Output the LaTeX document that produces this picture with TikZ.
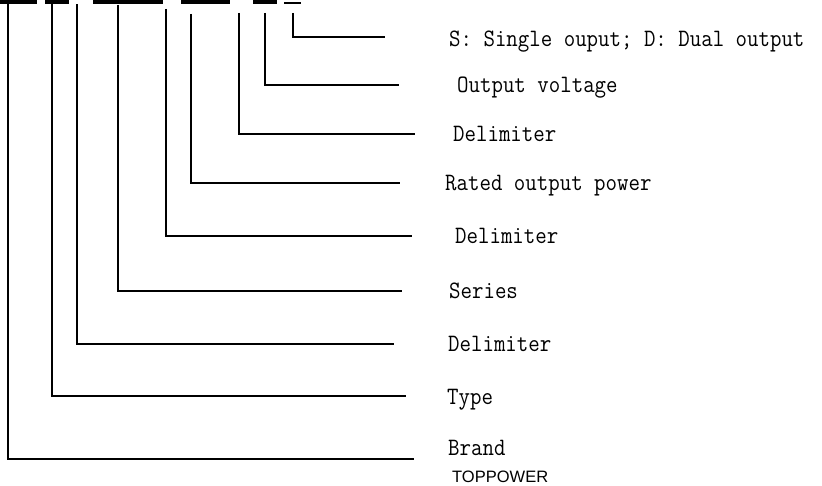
\documentclass[tikz,border=0pt]{standalone}
\usepackage{fontspec}
\newfontfamily\codefont[FakeStretch=0.89]{Latin Modern Mono}
\newfontfamily\brandfont{Liberation Sans}
\usetikzlibrary{positioning,calc}

\begin{document}
\begin{tikzpicture}[
    x=1pt, y=-1pt,
    field/.style={fill=black},
    part/.style={anchor=base west, inner sep=0pt,
        font=\codefont\fontsize{25}{30}\selectfont},
    maker/.style={anchor=base west, inner sep=0pt,
        font=\brandfont\fontsize{16.5}{20}\selectfont},
    leader/.style={draw=black, line width=1.1pt}
]
    \useasboundingbox (0,0) rectangle (822,486);

    % Code fields along the top
    \fill[field] (0,0) rectangle (37,4.5);
    \fill[field] (45,0) rectangle (69,4.5);
    \fill[field] (93,0) rectangle (163,4.5);
    \fill[field] (181,0) rectangle (230,4.5);
    \fill[field] (253,0) rectangle (277,4.5);
    \fill[field] (284,2) rectangle (301,4);

    % Descriptions
    \node[part] (output) at (449,47) {S: Single ouput; D: Dual output};
    \node[part] (volt) at (457,93) {Output voltage};
    \node[part] (delimc) at (453,142) {Delimiter};
    \node[part] (power) at (445,191) {Rated output power};
    \node[part] (delimb) at (455,244) {Delimiter};
    \node[part] (series) at (449,299) {Series};
    \node[part] (delima) at (448,352) {Delimiter};
    \node[part] (type) at (447,404) {Type};
    \node[part] (brand) at (448,455) {Brand};
    \node[maker] (toppower) at (452,482) {TOPPOWER};

    % Leader start points (under the fields)
    \coordinate (outputtop) at (293,13);
    \coordinate (volttop) at (265,13);
    \coordinate (delimctop) at (239,13);
    \coordinate (powertop) at (191,14);
    \coordinate (delimbtop) at (166,9);
    \coordinate (seriestop) at (118,5);
    \coordinate (delimatop) at (77,4.5);
    \coordinate (typetop) at (52,4.5);
    \coordinate (brandtop) at (8,4.5);

    % Leader end points
    \coordinate (outputend) at (385,37);
    \coordinate (voltend) at (399,85);
    \coordinate (delimcend) at (415,134);
    \coordinate (powerend) at (400,183);
    \coordinate (delimbend) at (412,236);
    \coordinate (seriesend) at (402,291);
    \coordinate (delimaend) at (394,344);
    \coordinate (typeend) at (406,396);
    \coordinate (brandend) at (414,459);

    % Leaders
    \draw[leader] (outputtop) |- (outputend);
    \draw[leader] (volttop) |- (voltend);
    \draw[leader] (delimctop) |- (delimcend);
    \draw[leader] (powertop) |- (powerend);
    \draw[leader] (delimbtop) |- (delimbend);
    \draw[leader] (seriestop) |- (seriesend);
    \draw[leader] (delimatop) |- (delimaend);
    \draw[leader] (typetop) |- (typeend);
    \draw[leader] (brandtop) |- (brandend);
\end{tikzpicture}
\end{document}
